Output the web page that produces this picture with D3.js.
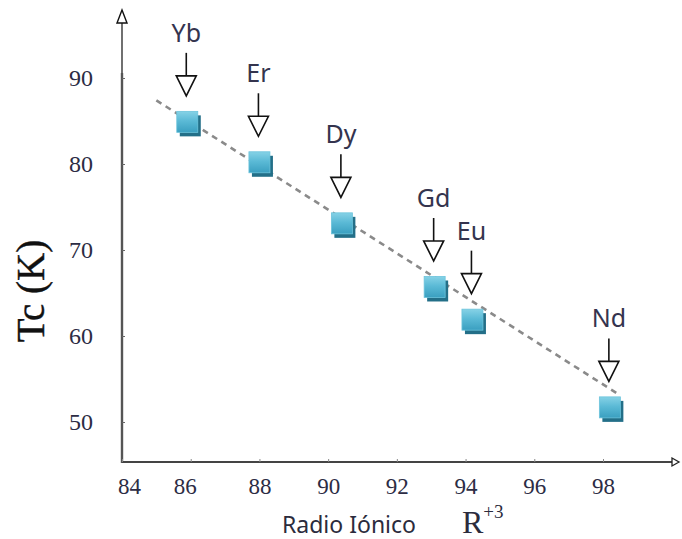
<!DOCTYPE html>
<html>
<head>
<meta charset="utf-8">
<script src="https://cdn.jsdelivr.net/npm/d3@7"></script>
<style>
  html, body { margin: 0; padding: 0; background: #fff; }
  svg { display: block; }
</style>
</head>
<body>
<svg id="chart" width="682" height="539"></svg>
<script>
// Rare-earth ions: ionic radius R+3 vs critical temperature Tc
const elements = ["Yb", "Er", "Dy", "Gd", "Eu", "Nd"];
const radius   = [85.9, 88.0, 90.4, 93.1, 94.2, 98.2];
const tc       = [84.9, 80.2, 73.1, 65.7, 61.9, 51.7];

// Linear trend drawn through the series
const trendX = [85.0, 98.5];
const trendY = [87.4, 53.1];

const xTicks = [84, 86, 88, 90, 92, 94, 96, 98];
const yTicks = [50, 60, 70, 80, 90];

const svg = d3.select("#chart");

const x = d3.scaleLinear().domain([84, 98]).range([122, 603]);
const y = d3.scaleLinear().domain([50, 90]).range([422, 78]);

const axisY0 = 462;      // baseline of the x axis
const axisX0 = x(84);    // position of the y axis

const defs = svg.append("defs");
const grad = defs.append("linearGradient")
  .attr("id", "sq").attr("x1", 0).attr("y1", 0).attr("x2", 0).attr("y2", 1);
grad.append("stop").attr("offset", "0%").attr("stop-color", "#86d2e6");
grad.append("stop").attr("offset", "45%").attr("stop-color", "#5bbad6");
grad.append("stop").attr("offset", "100%").attr("stop-color", "#3a9fc0");

// ---- axes ----
const axes = svg.append("g");
// y axis: thin black upper segment, heavier grey body
axes.append("line")
  .attr("x1", axisX0).attr("x2", axisX0).attr("y1", 22).attr("y2", axisY0)
  .attr("stroke", "#111").attr("stroke-width", 1.2);
axes.append("line")
  .attr("x1", axisX0).attr("x2", axisX0).attr("y1", 73).attr("y2", axisY0 + 1)
  .attr("stroke", "#555").attr("stroke-width", 2.4);
axes.append("path")
  .attr("d", `M${axisX0},10 L${axisX0 - 5},23 L${axisX0 + 5},23 Z`)
  .attr("fill", "#fff").attr("stroke", "#111").attr("stroke-width", 1.4);

// x axis
axes.append("line")
  .attr("x1", axisX0).attr("x2", 672).attr("y1", axisY0).attr("y2", axisY0)
  .attr("stroke", "#444").attr("stroke-width", 2.2);
axes.append("path")
  .attr("d", `M672,${axisY0 - 4} L679,${axisY0} L672,${axisY0 + 4} Z`)
  .attr("fill", "#fff").attr("stroke", "#222").attr("stroke-width", 1.3);

// tick labels through D3 axes (lines hidden, labels kept)
const xAxis = d3.axisBottom(x).tickValues(xTicks).tickSize(3).tickFormat(d3.format("d"));
const gx = svg.append("g").attr("transform", `translate(0,${axisY0})`).call(xAxis);
gx.select(".domain").remove();
gx.selectAll(".tick line").attr("stroke", "#888").attr("y2", -3);
gx.selectAll(".tick text")
  .attr("y", 16)
  .attr("dx", d => d === 84 ? 7 : (d === 86 ? -6 : 0))
  .attr("font-family", "'Liberation Serif', 'Times New Roman', serif")
  .attr("font-size", 23)
  .attr("fill", "#2c2c44");

const yAxis = d3.axisLeft(y).tickValues(yTicks).tickSize(3).tickFormat(d3.format("d"));
const gy = svg.append("g").attr("transform", `translate(${axisX0},0)`).call(yAxis);
gy.select(".domain").remove();
gy.selectAll(".tick line").attr("stroke", "#666").attr("x2", 3);
gy.selectAll(".tick text")
  .attr("x", -29)
  .attr("font-family", "'Liberation Serif', 'Times New Roman', serif")
  .attr("font-size", 24)
  .attr("fill", "#2c2c44");

// axis titles
svg.append("text")
  .attr("transform", "translate(44,291) rotate(-90)")
  .attr("text-anchor", "middle")
  .attr("font-family", "'Liberation Serif', 'Times New Roman', serif")
  .attr("font-size", 39)
  .attr("fill", "#111")
  .attr("stroke", "#111").attr("stroke-width", 0.4)
  .text("Tc (K)");

svg.append("text")
  .attr("x", 282).attr("y", 533)
  .attr("font-family", "'Noto Sans', 'Open Sans', sans-serif")
  .attr("font-size", 23)
  .attr("fill", "#2b2b3c")
  .text("Radio Iónico");

const rLabel = svg.append("text")
  .attr("x", 462).attr("y", 533)
  .attr("font-family", "'Liberation Serif', 'Times New Roman', serif")
  .attr("fill", "#2b2b3c");
rLabel.append("tspan").attr("font-size", 32).text("R");
rLabel.append("tspan").attr("font-size", 19).attr("dy", -15).text("+3");

// ---- trend line ----
const trend = trendX.map((v, i) => [v, trendY[i]]);
svg.append("path")
  .datum(trend)
  .attr("d", d3.line().x(d => x(d[0])).y(d => y(d[1])))
  .attr("fill", "none")
  .attr("stroke", "#8a8a8a")
  .attr("stroke-width", 2.6)
  .attr("stroke-dasharray", "6,5");

// ---- markers ----
const pts = elements.map((e, i) => ({ name: e, r: radius[i], t: tc[i] }));
const S = 21;
const mk = svg.append("g").selectAll("g").data(pts).join("g")
  .attr("transform", d => `translate(${x(d.r)},${y(d.t)})`);
mk.append("rect")
  .attr("x", -S / 2 + 3).attr("y", -S / 2 + 4).attr("width", S).attr("height", S)
  .attr("fill", "#236f88");
mk.append("rect")
  .attr("x", -S / 2).attr("y", -S / 2).attr("width", S).attr("height", S)
  .attr("fill", "url(#sq)")
  .attr("stroke", "#6cc4dc").attr("stroke-width", 0.8);

// ---- element annotations: label, stem and open arrowhead ----
const ann = svg.append("g").selectAll("g").data(pts).join("g")
  .attr("transform", d => `translate(${x(d.r) - 1},${y(d.t) - 26})`);
ann.append("line")
  .attr("x1", 0).attr("x2", 0).attr("y1", -43).attr("y2", -20)
  .attr("stroke", "#111").attr("stroke-width", 1.6);
ann.append("path")
  .attr("d", "M-10,-20 L10,-20 L0,0 Z")
  .attr("fill", "#fff").attr("stroke", "#111").attr("stroke-width", 1.6)
  .attr("stroke-linejoin", "miter");
ann.append("text")
  .attr("x", 0).attr("y", -54)
  .attr("text-anchor", "middle")
  .attr("font-family", "'Noto Sans', 'Open Sans', sans-serif")
  .attr("font-size", 25)
  .attr("fill", "#34344e")
  .text(d => d.name);
</script>
</body>
</html>
